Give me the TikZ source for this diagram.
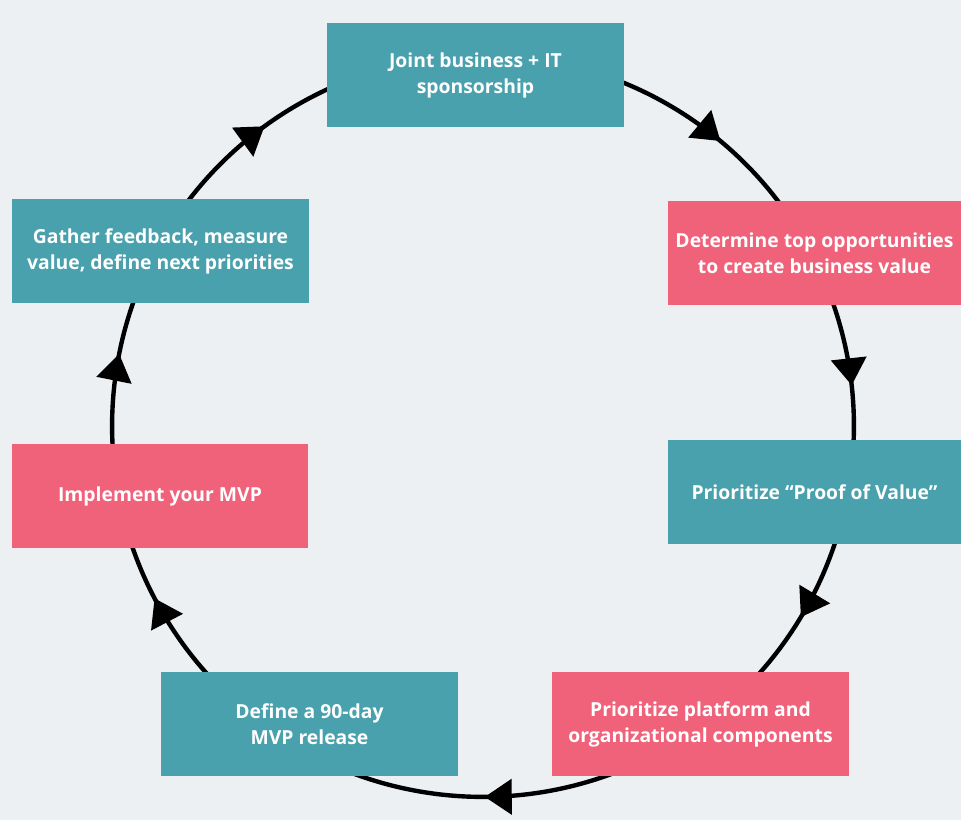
\documentclass[tikz,border=0pt]{standalone}
\usepackage{fontspec}
\setmainfont{Open Sans}
\usetikzlibrary{arrows.meta,decorations.markings}
\definecolor{bgcol}{HTML}{ECF0F3}
\definecolor{tealcol}{HTML}{48A1AC}
\definecolor{pinkcol}{HTML}{F0627A}
\newcommand{\ringrad}{7.42cm}

\begin{document}
\begin{tikzpicture}[x=0.02cm,y=0.02cm,
	stepbox/.style={minimum width=5.94cm, minimum height=2.08cm, inner sep=0pt, align=center, text=white, font=\bfseries\fontsize{11}{14.8}\selectfont},
	sbox/.style={stepbox, fill=tealcol},
	pbox/.style={stepbox, fill=pinkcol},
	ring/.style={line width=2.5pt},
	midtip/.style={postaction=decorate, decoration={markings, mark=at position #1 with {\arrow{Triangle[length=5.4mm,width=7mm]}}}}]
		\fill[bgcol] (0,0) rectangle (961,820);
		\useasboundingbox (0,0) rectangle (961,820);
		\coordinate (hub) at (483,394);
		% ring segments, clockwise
		\draw[ring, midtip=0.642] (hub) ++(90:\ringrad) arc[start angle=90, end angle=28, radius=\ringrad];
		\draw[ring, midtip=0.571] (hub) ++(28:\ringrad) arc[start angle=28, end angle=-10, radius=\ringrad];
		\draw[ring, midtip=0.457] (hub) ++(-10:\ringrad) arc[start angle=-10, end angle=-56, radius=\ringrad];
		\draw[ring, midtip=0.496] (hub) ++(-56:\ringrad) arc[start angle=-56, end angle=-124, radius=\ringrad];
		\draw[ring, midtip=0.708] (hub) ++(-124:\ringrad) arc[start angle=-124, end angle=-164, radius=\ringrad];
		\draw[ring, midtip=0.613] (hub) ++(-164:\ringrad) arc[start angle=-164, end angle=-208.4, radius=\ringrad];
		\draw[ring, midtip=0.414] (hub) ++(151.6:\ringrad) arc[start angle=151.6, end angle=90, radius=\ringrad];
		% steps
		\node[sbox] (sponsor) at (475.5,745) {Joint business + IT\\sponsorship};
		\node[pbox, minimum width=5.86cm] (opport) at (814.5,566.5) {Determine top opportunities\\to create business value};
		\node[sbox, minimum width=5.86cm] (proof) at (814.5,328) {Prioritize “Proof of Value”};
		\node[pbox] (platform) at (700.5,96) {Prioritize platform and\\organizational components};
		\node[sbox] (release) at (309.5,96) {Define a 90-day\\MVP release};
		\node[pbox, minimum width=5.92cm] (mvp) at (160,323.5) {Implement your MVP};
		\node[sbox] (feedback) at (160.5,568.5) {Gather feedback, measure\\value, define next priorities};
\end{tikzpicture}
\end{document}
